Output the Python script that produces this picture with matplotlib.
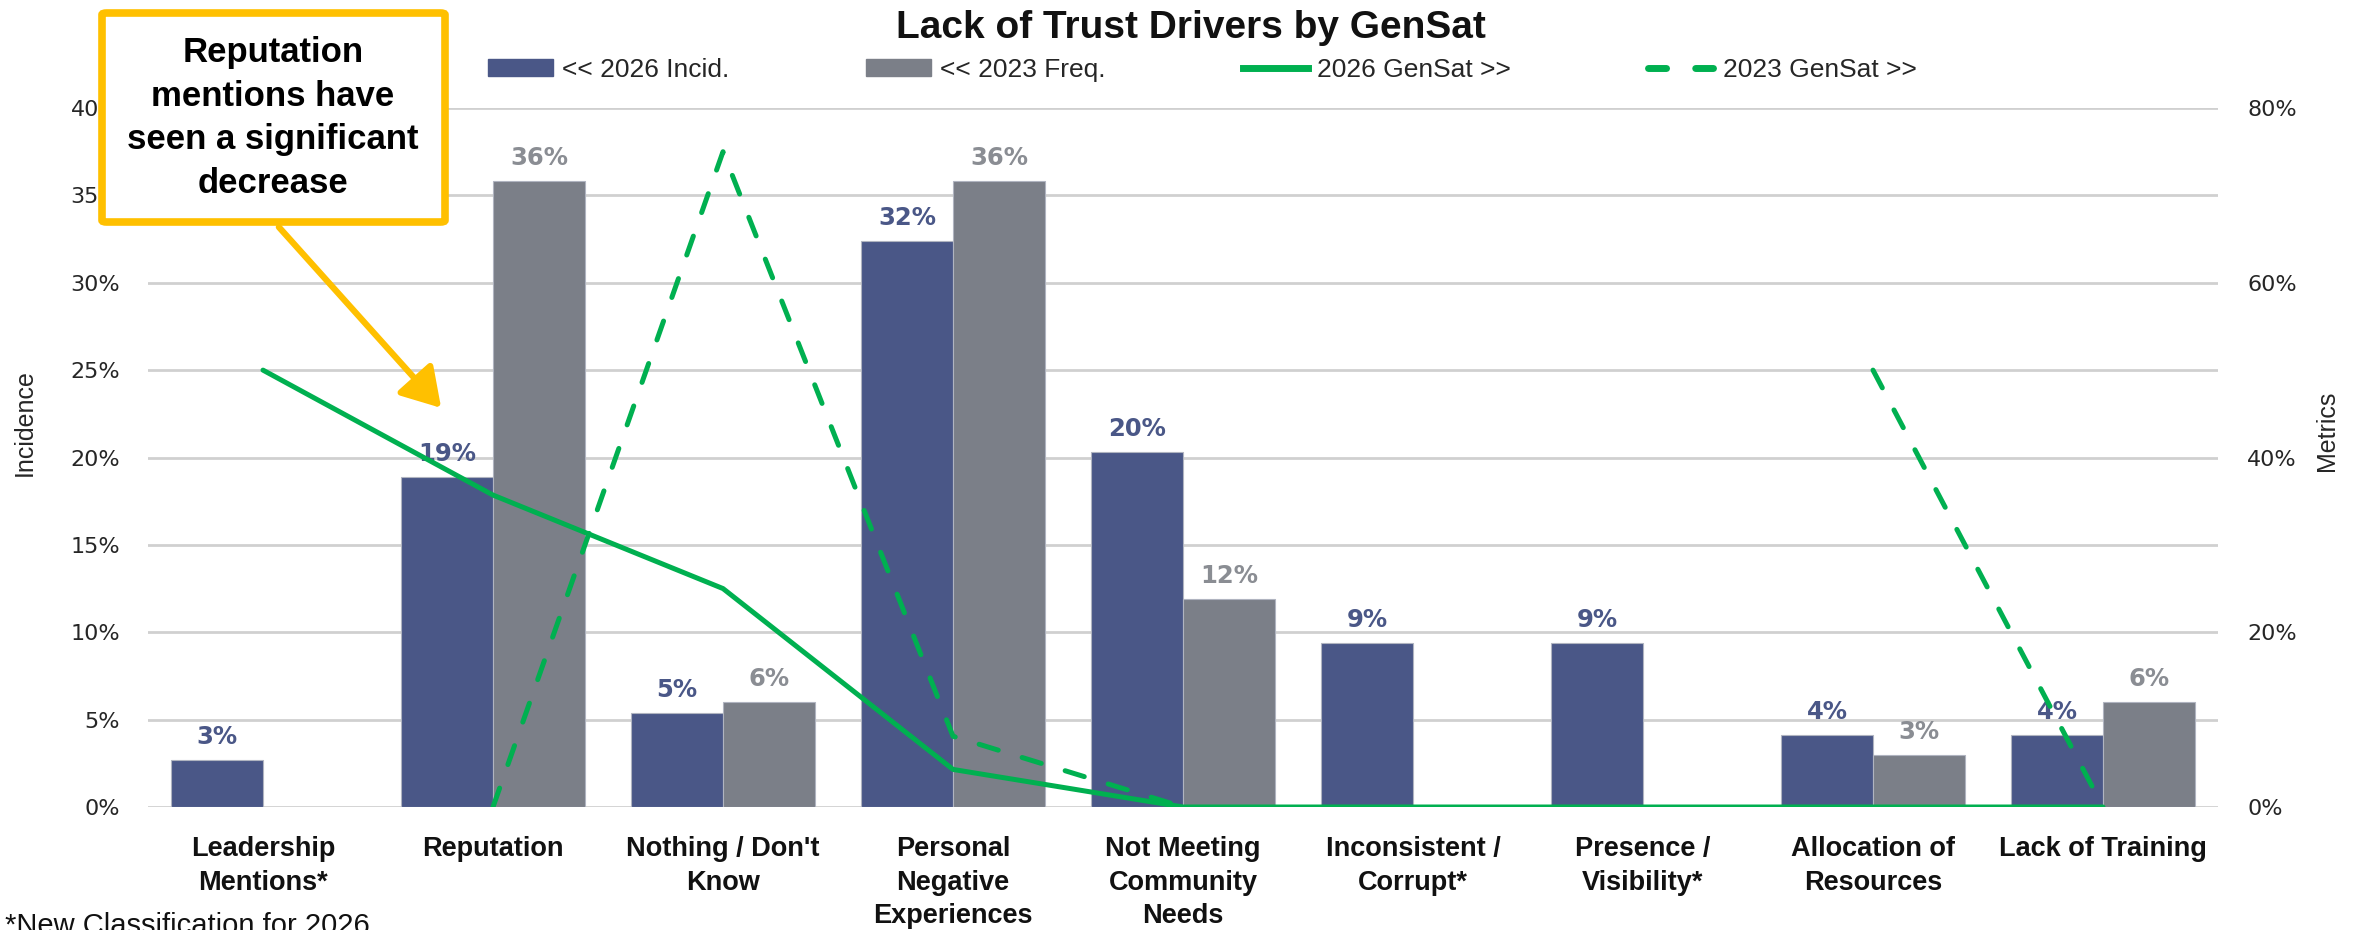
import numpy as np
import matplotlib.pyplot as plt
from matplotlib.patches import Patch, FancyBboxPatch, FancyArrowPatch
from matplotlib.lines import Line2D
from matplotlib.ticker import PercentFormatter

categories = ["Leadership\nMentions*", "Reputation", "Nothing / Don't\nKnow",
              "Personal\nNegative\nExperiences", "Not Meeting\nCommunity\nNeeds",
              "Inconsistent /\nCorrupt*", "Presence /\nVisibility*",
              "Allocation of\nResources", "Lack of Training"]
incid_2026 = [0.027, 0.189, 0.054, 0.324, 0.203, 0.094, 0.094, 0.041, 0.041]
freq_2023 = [np.nan, 0.358, 0.060, 0.358, 0.119, np.nan, np.nan, 0.030, 0.060]
gensat_2026 = [0.50, 0.357, 0.25, 0.043, 0.0, 0.0, 0.0, 0.0, 0.0]
gensat_2023 = [np.nan, 0.0, 0.75, 0.081, 0.0, np.nan, np.nan, 0.50, 0.0]

navy = '#4A5787'
grey = '#7B7F88'
green = '#00B050'
gold = '#FFC000'
txt = '#262626'

W, H = 2361, 930
fig = plt.figure(figsize=(W / 100, H / 100), dpi=100)
ax = fig.add_axes([148 / W, 1 - 807 / H, (2218 - 148) / W, (807 - 108) / H])
ax2 = ax.twinx()

x = np.arange(len(categories))
bw = 0.4
ax.bar(x - bw / 2, incid_2026, bw, color=navy, edgecolor='#B0B4C0', linewidth=0.8, zorder=2)
ax.bar(x + bw / 2, freq_2023, bw, color=grey, edgecolor='#B0B4C0', linewidth=0.8, zorder=2)

for xi, v in zip(x, incid_2026):
    ax.annotate(f"{v:.0%}", (xi - bw / 2, v), xytext=(0, 11.5), textcoords='offset points',
                ha='center', va='baseline', fontsize=17.5, fontweight='bold', color=navy,
                family='DejaVu Sans')
for xi, v in zip(x, freq_2023):
    if np.isnan(v):
        continue
    ax.annotate(f"{v:.0%}", (xi + bw / 2, v), xytext=(0, 11.5), textcoords='offset points',
                ha='center', va='baseline', fontsize=17.5, fontweight='bold', color='#8A8D93',
                family='DejaVu Sans')

ax2.plot(x, gensat_2026, color=green, lw=3.6, solid_capstyle='round', solid_joinstyle='round')
ax2.plot(x, gensat_2023, color=green, lw=3.6, ls=(0, (4.0, 5.0)), dash_capstyle='round')

ax.set_xlim(-0.5, len(categories) - 0.5)
ax.set_ylim(0, 0.40)
ax.set_yticks(np.arange(0, 0.401, 0.05))
ax.yaxis.set_major_formatter(PercentFormatter(1, decimals=0))
ax2.set_ylim(0, 0.80)
ax2.set_yticks(np.arange(0, 0.801, 0.2))
ax2.yaxis.set_major_formatter(PercentFormatter(1, decimals=0))

ax.grid(axis='y', color='#D0D0D0', lw=2)
ax.set_axisbelow(True)
for a in (ax, ax2):
    for s in a.spines.values():
        s.set_visible(False)
ax.tick_params(axis='y', length=0, pad=20, labelsize=16, labelcolor=txt)
ax2.tick_params(axis='y', length=0, pad=21, labelsize=16, labelcolor=txt)
for t in ax.get_yticklabels() + ax2.get_yticklabels():
    t.set_family('DejaVu Sans')

ax.set_xticks(x, categories)
ax.tick_params(axis='x', length=0, pad=21)
for t in ax.get_xticklabels():
    t.set_fontsize(19.5)
    t.set_fontweight('bold')
    t.set_family('Liberation Sans')
    t.set_color('#111111')
    t.set_linespacing(1.37)

ax.set_ylabel('Incidence', fontsize=18, family='Liberation Sans', color=txt, va='center')
ax.yaxis.set_label_coords((25 - 148) / 2070, (807 - 423) / 699)
ax2.set_ylabel('Metrics', fontsize=18, family='Liberation Sans', color=txt, rotation=90,
               va='center')
ax2.yaxis.set_label_coords((2327 - 148) / 2070, (807 - 431) / 699)

fig.text(1191 / W, 1 - 38 / H, 'Lack of Trust Drivers by GenSat', ha='center', va='baseline',
         fontsize=28, fontweight='bold', family='Liberation Sans', color='#111111')

handles = [Patch(facecolor=navy, edgecolor=navy), Patch(facecolor=grey, edgecolor=grey),
           Line2D([], [], color=green, lw=5),
           Line2D([], [], color=green, lw=5, ls=(0, (2.6, 4.2)), dash_capstyle='round')]
labels = ['<< 2026 Incid.', '<< 2023 Freq.', '2026 GenSat >>', '2023 GenSat >>']
fig.legend(handles, labels, loc='center', bbox_to_anchor=(1202 / W, 1 - 70 / H), ncol=4,
           frameon=False, prop={'family': 'Liberation Sans', 'size': 19},
           handlelength=2.46, handleheight=0.6, handletextpad=0.35, columnspacing=5.2,
           labelcolor=txt)

fig.text(5 / W, 1 - 912 / H, '*New Classification for 2026', ha='left', va='top',
         fontsize=21, family='Liberation Sans', color='#111111')

# callout box and arrow
def fx(px):
    return px / W

def fy(py):
    return 1 - py / H

box = FancyBboxPatch((fx(102), fy(222)), fx(445) - fx(102), fy(13) - fy(222),
                     boxstyle='round,pad=0,rounding_size=0.002', transform=fig.transFigure,
                     facecolor='white', edgecolor=gold, lw=5.5, zorder=10)
fig.add_artist(box)
fig.text(fx(273), fy(118), 'Reputation\nmentions have\nseen a significant\ndecrease',
         ha='center', va='center', fontsize=25, fontweight='bold', family='Liberation Sans',
         color='black', linespacing=1.42, zorder=11)
arrow = FancyArrowPatch((fx(277), fy(225)), (fx(443), fy(410)), transform=fig.transFigure,
                        arrowstyle='-|>,head_length=0.9,head_width=0.55', mutation_scale=26,
                        color=gold, lw=4.5, zorder=10)
fig.add_artist(arrow)

fig.savefig('out.png', dpi=100)
